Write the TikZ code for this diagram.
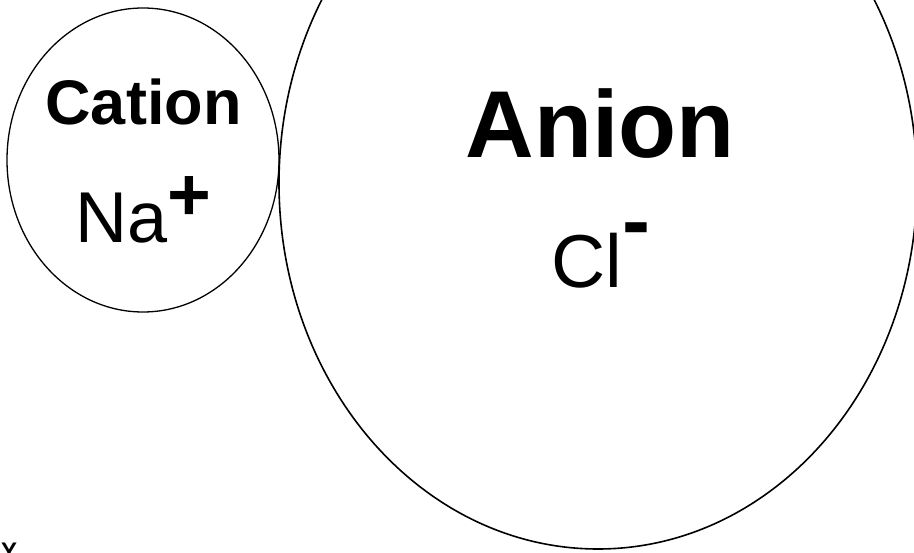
\documentclass[tikz,border=0pt]{standalone}
\usepackage{fontspec}
\setmainfont{Liberation Sans}
\usetikzlibrary{shapes.geometric}
\tikzset{
  ion/.style={draw=black, ellipse, inner sep=0pt},
  lbl/.style={inner sep=0pt, anchor=base, text=black},
}
\begin{document}
\begin{tikzpicture}[x=1pt,y=1pt]
\useasboundingbox (0,0) rectangle (914,-553);
\node[ion, line width=1.3pt, minimum width=272pt, minimum height=304pt] (cation) at (143,-160) {};
\node[ion, line width=1.6pt, minimum width=638pt, minimum height=732pt] (anion) at (598,-183) {};
\node[lbl] (cattitle) at (143.5,-125) {\fontsize{63}{63}\selectfont\bfseries Cation};
\node[lbl, anchor=base west] (na) at (75,-243) {\fontsize{72}{72}\selectfont Na\raisebox{22pt}{\fontsize{75}{75}\selectfont\bfseries +}};
\node[lbl] (antitle) at (600,-158) {\fontsize{95}{95}\selectfont\bfseries Anion};
\node[lbl, anchor=base west] (cl) at (551,-288) {\fontsize{75}{75}\selectfont Cl\raisebox{38pt}{\fontsize{84}{84}\selectfont\bfseries -}};
\node[lbl, anchor=base west] (cut) at (1,-559) {\fontsize{24}{24}\selectfont\bfseries Y};
\end{tikzpicture}
\end{document}
